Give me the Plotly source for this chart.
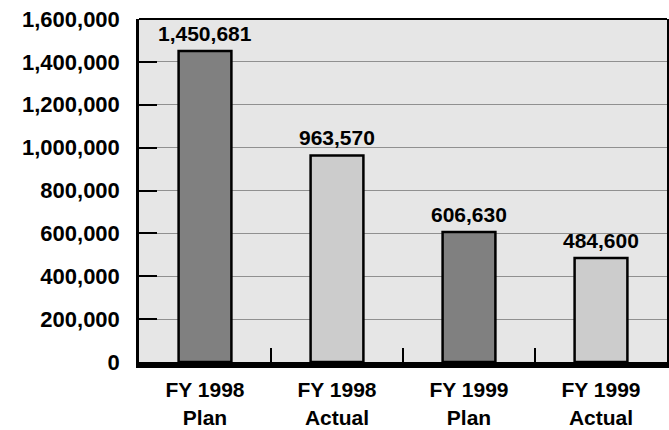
import plotly.graph_objects as go

# Budget figures by fiscal year
categories = ["FY 1998<br>Plan", "FY 1998<br>Actual", "FY 1999<br>Plan", "FY 1999<br>Actual"]
values = [1450681, 963570, 606630, 484600]
bar_colors = ["#808080", "#cccccc", "#808080", "#cccccc"]

FONT = "Arial, 'Liberation Sans', sans-serif"

fig = go.Figure()
fig.add_trace(go.Bar(
    x=categories,
    y=values,
    marker=dict(color=bar_colors, line=dict(color="black", width=2.5)),
    hoverinfo="skip",
))

# Value labels above each bar
for cat, val in zip(categories, values):
    fig.add_annotation(
        x=cat, y=val, text=f"<b>{val:,}</b>",
        showarrow=False, yanchor="bottom", yshift=4,
        font=dict(family=FONT, size=21, color="black"),
    )

# Top edge of the frame
fig.add_shape(type="line", xref="paper", yref="paper",
              x0=0, x1=1, y0=1, y1=1, line=dict(color="black", width=2))

fig.update_layout(
    width=669, height=430,
    margin=dict(l=139, r=2, t=19, b=68),
    paper_bgcolor="white",
    plot_bgcolor="#e6e6e6",
    bargap=0.6,
    showlegend=False,
    font=dict(family=FONT, color="black"),
)

fig.update_xaxes(
    type="category", automargin=False,
    showline=True, linecolor="black", linewidth=6,
    ticks="inside", tickson="boundaries", ticklen=14, tickwidth=2, tickcolor="black",
    showgrid=False,
    tickfont=dict(family=FONT, size=21, color="black"),
    ticklabelstandoff=4,
    tickvals=categories,
    ticktext=[f"<b>{c}</b>" for c in categories],
)

fig.update_yaxes(
    range=[0, 1600000], dtick=200000, tickformat=",",
    automargin=False,
    showline=True, mirror=True, linecolor="black", linewidth=2.5,
    ticks="inside", ticklen=18, tickwidth=2, tickcolor="black",
    showgrid=True, gridcolor="#909090", gridwidth=1,
    zeroline=False,
    tickfont=dict(family=FONT, size=22, color="black"),
    ticklabelstandoff=12,
    tickprefix="<b>", ticksuffix="</b>",
)

fig.write_html("out.html")
